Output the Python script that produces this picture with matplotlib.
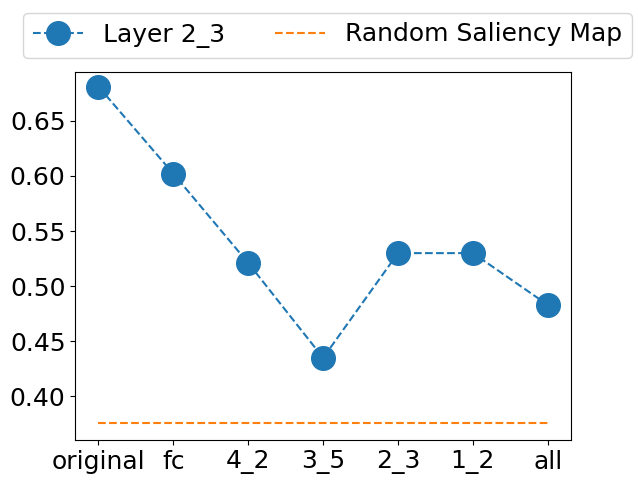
import matplotlib
matplotlib.use("Agg")
import matplotlib.pyplot as plt

categories = ["original", "fc", "4_2", "3_5", "2_3", "1_2", "all"]
layer_vals = [0.681, 0.602, 0.521, 0.435, 0.530, 0.530, 0.483]
random_val = 0.376

plt.rcParams['font.size'] = 18
fig, ax = plt.subplots(figsize=(6.38, 4.84), dpi=100)
x = list(range(len(categories)))
ax.plot(x, layer_vals, '--o', color='#1f77b4', markersize=17, label='Layer 2_3')
ax.plot(x, [random_val] * len(x), '--', color='#ff7f0e', label='Random Saliency Map')
ax.set_xticks(x)
ax.set_xticklabels(categories)
ax.set_yticks([0.40, 0.45, 0.50, 0.55, 0.60, 0.65])
ax.set_ylim(0.3605, 0.6942)
ax.set_xlim(-0.31, 6.31)
fig.subplots_adjust(left=0.118, right=0.895, top=0.851, bottom=0.091)
fig.legend(loc='upper center', ncol=2, bbox_to_anchor=(0.513, 1.0), fontsize=18)
fig.savefig("out.png", dpi=100)
